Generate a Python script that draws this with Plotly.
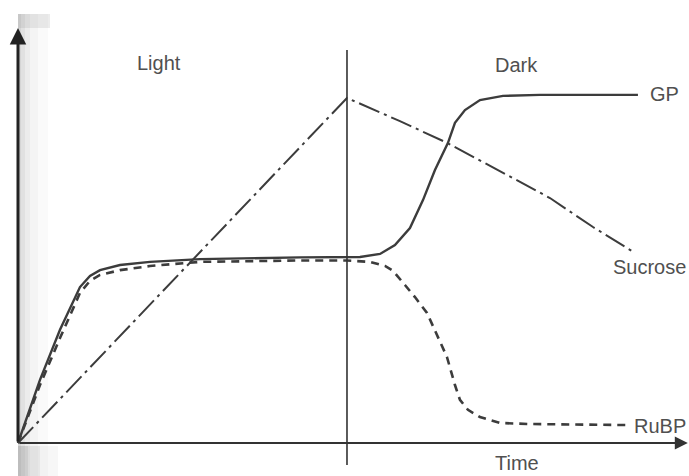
import plotly.graph_objects as go

# ---- data (time in arbitrary units, light switched off at t = 5) ----
LIGHT_END = 5.0

gp_t = [0, 0.334, 0.638, 0.942, 1.094, 1.246, 1.550, 2.006, 2.766, 3.526, 4.286, 5.198,
        5.502, 5.729, 5.957, 6.155, 6.337, 6.535, 6.641, 6.793, 7.021, 7.371, 7.933, 9.422]
gp_y = [0, 18.3, 32.8, 45.2, 48.4, 50.1, 51.6, 52.5, 53.3, 53.6, 53.8, 53.9,
        54.8, 57.4, 62.3, 70.4, 79.1, 87.0, 92.8, 96.5, 99.4, 100.6, 100.9, 100.9]

rubp_t = [0, 0.334, 0.638, 0.942, 1.094, 1.246, 1.550, 2.006, 2.766, 3.526, 4.286, 5.0,
          5.350, 5.578, 5.699, 5.881, 6.033, 6.216, 6.368, 6.520, 6.641, 6.717, 6.839,
          7.021, 7.325, 7.781, 9.271]
rubp_y = [0, 16.8, 30.4, 43.5, 47.0, 48.7, 50.1, 51.3, 52.5, 52.8, 52.9, 52.9,
          52.5, 51.3, 49.9, 45.8, 42.3, 37.7, 31.3, 24.9, 16.8, 12.5, 9.6,
          7.5, 5.8, 5.5, 5.2]

suc_t = [0, 5.0, 5.805, 6.520, 7.432, 8.085, 8.739, 9.377]
suc_y = [0, 100, 93.3, 87.0, 77.7, 71.0, 62.6, 55.1]

labels = ["GP", "Sucrose", "RuBP"]
phase_labels = ["Light", "Dark"]
x_title = "Time"

X_RANGE = [-0.2736, 10.198]
Y_RANGE = [-9.565, 128.4]

LINE = "#3c3c3c"
TXT = "#505050"
FONT = "Liberation Sans, Arial, sans-serif"

fig = go.Figure()

fig.add_trace(go.Scatter(x=suc_t, y=suc_y, mode="lines",
                         line=dict(color=LINE, width=2, dash="22px,5px,3px,5px")))
fig.add_trace(go.Scatter(x=rubp_t, y=rubp_y, mode="lines",
                         line=dict(color=LINE, width=2.6, dash="8px,6px")))
fig.add_trace(go.Scatter(x=gp_t, y=gp_y, mode="lines",
                         line=dict(color=LINE, width=2.4)))

shapes = []
# scan shadow along left edge
for w, op in [(3, 0.10), (7, 0.07), (12, 0.05), (20, 0.04), (30, 0.03)]:
    shapes.append(dict(type="rect", xref="paper", yref="paper",
                       x0=18 / 689, x1=(18 + w) / 689, y0=0, y1=1 - 14 / 476,
                       fillcolor="#606060", opacity=op, line_width=0, layer="below"))
shapes.append(dict(type="rect", xref="paper", yref="paper",
                   x0=18 / 689, x1=50 / 689, y0=1 - 28 / 476, y1=1 - 14 / 476,
                   fillcolor="#808080", opacity=0.15, line_width=0, layer="below"))
for w, op in [(10, 0.12), (22, 0.08), (40, 0.06)]:
    shapes.append(dict(type="rect", xref="paper", yref="paper",
                       x0=18 / 689, x1=(18 + w) / 689, y0=0, y1=1 - 446 / 476,
                       fillcolor="#707070", opacity=op, line_width=0, layer="below"))
# light/dark divider
shapes.append(dict(type="line", xref="x", yref="y", x0=LIGHT_END, x1=LIGHT_END,
                   y0=-6.4, y1=113.9, line=dict(color="#333333", width=1.6)))

annotations = [
    # axes with arrowheads
    dict(x=10.18, y=0, ax=0, ay=0, xref="x", yref="y", axref="x", ayref="y",
         text="", showarrow=True, arrowhead=2, arrowsize=1.3, arrowwidth=2,
         arrowcolor="#333333"),
    dict(x=0, y=120.3, ax=0, ay=0, xref="x", yref="y", axref="x", ayref="y",
         text="", showarrow=True, arrowhead=2, arrowsize=1.1, arrowwidth=3,
         arrowcolor="#222222"),
    dict(x=gp_t[-1], y=gp_y[-1], text=labels[0], showarrow=False, xanchor="left",
         xshift=10, yshift=1),
    dict(x=suc_t[-1], y=suc_y[-1], text=labels[1], showarrow=False, xanchor="left",
         xshift=-24, yshift=-14),
    dict(x=rubp_t[-1], y=rubp_y[-1], text=labels[2], showarrow=False, xanchor="left",
         xshift=4, yshift=-1),
    dict(x=2.15, y=110, text=phase_labels[0], showarrow=False),
    dict(x=7.58, y=109.5, text=phase_labels[1], showarrow=False),
    dict(x=7.58, y=0, xref="x", yref="paper", yanchor="bottom", text=x_title,
         showarrow=False),
]
for a in annotations:
    a.setdefault("font", dict(family=FONT, size=20, color=TXT))

fig.update_layout(
    width=689, height=476,
    margin=dict(l=0, r=0, t=0, b=0),
    paper_bgcolor="white", plot_bgcolor="white",
    showlegend=False,
    xaxis=dict(range=X_RANGE, visible=False, fixedrange=True),
    yaxis=dict(range=Y_RANGE, visible=False, fixedrange=True),
    shapes=shapes,
    annotations=annotations,
)

fig.write_html(
    "out.html",
    config={"displayModeBar": False},
    post_script="document.body.style.margin='0';document.body.style.padding='0';"
                "document.body.style.overflow='hidden';",
)
